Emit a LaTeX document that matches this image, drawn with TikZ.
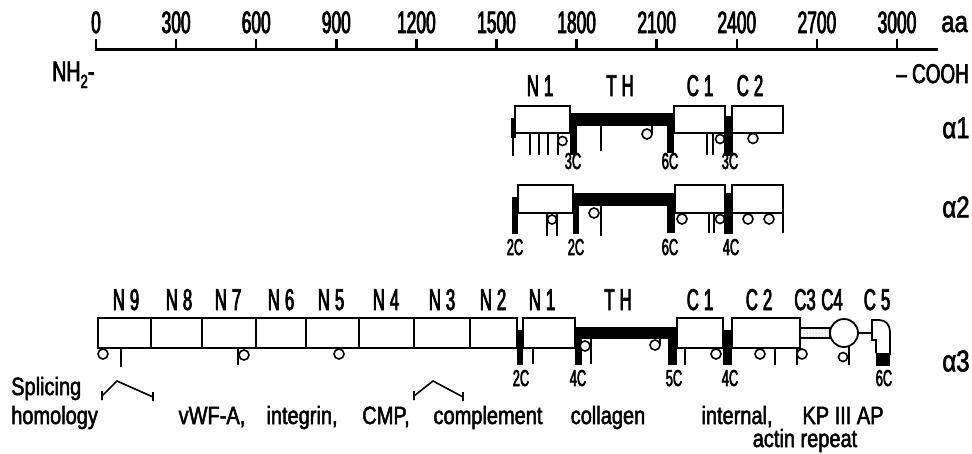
\documentclass[tikz,border=0pt]{standalone}
\usepackage{fontspec}
\setmainfont{Liberation Sans}[FakeStretch=0.8,FakeBold=2]
\newfontfamily\nf{Liberation Sans}[FakeStretch=0.56,FakeBold=2.5]
\newfontfamily\mf{Liberation Sans}[FakeStretch=0.7,FakeBold=2.5]
\usetikzlibrary{patterns}
\begin{document}
\begin{tikzpicture}[x=1pt,y=-1pt,line cap=butt,
  box/.style={draw,line width=1.8pt,fill=white},
  thn/.style={line width=1.6pt},
  ring/.style={draw,line width=1.6pt,fill=white},
  num/.style={font=\nf\fontsize{31}{31}\selectfont,anchor=base,inner sep=0pt},
  dl/.style={font=\nf\fontsize{30}{30}\selectfont,anchor=base,inner sep=0pt},
  cl/.style={font=\nf\fontsize{23}{23}\selectfont,anchor=base,inner sep=0pt},
  al/.style={font=\fontsize{30}{30}\selectfont,inner sep=0pt},
  tx/.style={font=\fontsize{25}{25}\selectfont,anchor=base,inner sep=0pt}]
\useasboundingbox (0,0) rectangle (972,453);
% ---- axis
\draw[line width=3pt] (94.5,49) -- (938,49);
\foreach \v [count=\i from 0] in {0,300,...,3000}{
  \draw[line width=2.5pt] (96+80.1*\i,50) -- (96+80.1*\i,39);
  \node[num] (t\i) at (96+80.1*\i,33) {\v};}
\node[al,anchor=base west] (aa) at (941,32) {aa};
\node[anchor=base west,inner sep=0pt,font=\mf\fontsize{28}{28}\selectfont] (nh) at (52,81) {NH\raisebox{-7pt}{\fontsize{19}{19}\selectfont 2}-};
\node[anchor=base east,inner sep=0pt,font=\mf\fontsize{27}{27}\selectfont] (cooh) at (969,83) {– COOH};
% ---- alpha1
\draw[box] (515,106) rectangle (570,133);
\draw[box] (674,106) rectangle (725,133);
\draw[box] (732,106) rectangle (783,133);
\fill (511,118) rectangle (515.5,138);
\draw[thn] (513,118) -- (513,156);
\fill (570,113) rectangle (577,155);
\fill (570,113) rectangle (672,126);
\fill (667,113) rectangle (674,153);
\fill (724,116) rectangle (733,156);
\foreach \x in {530,539,548,558} \draw[thn] (\x,133) -- (\x,155);
\draw[ring] (562.5,141) circle (4.5);
\draw[thn] (601,126) -- (601,151);
\draw[thn] (652,126) -- (652,134);
\draw[ring] (647,134) circle (5);
\foreach \x in {707,713} \draw[thn] (\x,133) -- (\x,155);
\draw[ring] (720,139) circle (4.5);
\draw[ring] (753,138.5) circle (5);
\node[dl] (a1n1) at (540,96) {N\,1};
\node[dl] (a1th) at (620,96) {T\,H};
\node[dl] (a1c1) at (700,96) {C\,1};
\node[dl] (a1c2) at (750,96) {C\,2};
\node[cl] (a1k1) at (573,169) {3C};
\node[cl] (a1k2) at (670,169) {6C};
\node[cl] (a1k3) at (730,169) {3C};
\node[al] (a1) at (956,128) {α1};
% ---- alpha2
\draw[box] (518,185) rectangle (573,213);
\draw[box] (675,185) rectangle (725,213);
\draw[box] (732,185) rectangle (783,213);
\fill (512,197) rectangle (518,234);
\fill (573,193) rectangle (579,234);
\fill (573,193) rectangle (672,206);
\fill (667,193) rectangle (675,233);
\fill (724,193) rectangle (733,234);
\draw[thn] (547,213) -- (547,236) (557,213) -- (557,236);
\draw[ring] (552,219.5) circle (4.5);
\draw[thn] (601,206) -- (601,236);
\draw[ring] (594,213) circle (5);
\draw[ring] (682,219) circle (5);
\foreach \x in {709,714} \draw[thn] (\x,213) -- (\x,233);
\draw[ring] (720,219) circle (4.5);
\draw[ring] (748,219) circle (5);
\draw[ring] (769,219) circle (5);
\draw[thn] (783,213) -- (783,233);
\node[cl] (a2k1) at (515,255) {2C};
\node[cl] (a2k2) at (576,255) {2C};
\node[cl] (a2k3) at (670,255) {6C};
\node[cl] (a2k4) at (731,255) {4C};
\node[al] (a2) at (956,207) {α2};
% ---- alpha3
\foreach \a/\b in {98/151,151/202,202/256,256/306,306/359,359/414,414/470,470/517}
  \draw[box] (\a,318) rectangle (\b,348);
\draw[box] (523,318) rectangle (575,348);
\draw[box] (677,318) rectangle (723,348);
\draw[box] (732,318) rectangle (800,348);
\fill (517,330) rectangle (523,365);
\fill (575,327) rectangle (582,365);
\fill (575,327) rectangle (672,339);
\fill (668,327) rectangle (677,365);
\fill (723,330) rectangle (732,365);
\draw[ring] (103,354) circle (5);
\draw[thn] (121,348) -- (121,367);
\draw[thn] (238,348) -- (238,365);
\draw[ring] (244,355) circle (5);
\draw[ring] (339,354) circle (5);
\draw[thn] (533,348) -- (533,364);
\draw[thn] (591,339) -- (591,364);
\draw[ring] (585,346) circle (5);
\draw[thn] (660,339) -- (660,344);
\draw[ring] (655,345) circle (5);
\draw[thn] (685,348) -- (685,365);
\draw[ring] (716,354) circle (5);
\draw[ring] (760,354) circle (5);
\draw[thn] (775,348) -- (775,365);
\draw[thn] (797,348) -- (797,365);
\draw[ring] (802,354) circle (5);
\draw[line width=1.3pt,pattern=dots,pattern color=black!60] (800,328) rectangle (830,338);
\draw[thn] (849,347) -- (849,365);
\draw[ring] (843,357) circle (4.5);
\draw[line width=1.8pt,fill=white] (844,333) circle (14);
\draw[line width=1.8pt] (858,333) -- (872,333);
\fill (876,353) rectangle (890,366);
\draw[line width=1.8pt] (876,353) -- (876,340) -- (872,340) -- (872,320) -- (879,320)
  .. controls (886,320) and (890,325) .. (890,332) -- (890,355);
\node[dl] (n9) at (126,310) {N\,9};
\node[dl] (n8) at (179,310) {N\,8};
\node[dl] (n7) at (228,310) {N\,7};
\node[dl] (n6) at (281,310) {N\,6};
\node[dl] (n5) at (331,310) {N\,5};
\node[dl] (n4) at (386,310) {N\,4};
\node[dl] (n3) at (442,310) {N\,3};
\node[dl] (n2) at (493,310) {N\,2};
\node[dl] (n1) at (542,310) {N\,1};
\node[dl] (th) at (618,310) {T\,H};
\node[dl] (c1) at (700,310) {C\,1};
\node[dl] (c2) at (759,310) {C\,2};
\node[dl] (c3) at (805,310) {C3};
\node[dl] (c4) at (832,310) {C4};
\node[dl] (c5) at (877,310) {C\,5};
\node[cl] (a3k1) at (521,386) {2C};
\node[cl] (a3k2) at (578,386) {4C};
\node[cl] (a3k3) at (674,386) {5C};
\node[cl] (a3k4) at (730,386) {4C};
\node[cl] (a3k5) at (884,386) {6C};
\node[al] (a3) at (956,361) {α3};
% ---- brackets and captions
\draw[thn] (102,391) -- (102,400) (102,396) -- (117,381) -- (153,397) (153,392) -- (153,401);
\draw[thn] (414,391) -- (414,400) (414,396) -- (433,381) -- (463,397) (463,392) -- (463,401);
\node[tx,anchor=base west] (sp) at (11,395) {Splicing};
\node[tx,anchor=base west] (ho) at (11,424) {homology};
\node[tx] (vw) at (212,424) {vWF-A,};
\node[tx] (in) at (302,424) {integrin,};
\node[tx] (cm) at (386,424) {CMP,};
\node[tx] (co) at (488,424) {complement};
\node[tx] (cg) at (608,424) {collagen};
\node[tx] (il) at (737,424) {internal,};
\node[tx] (kp) at (843,424) {KP III AP};
\node[tx] (ar) at (805,447) {actin repeat};
\end{tikzpicture}
\end{document}
